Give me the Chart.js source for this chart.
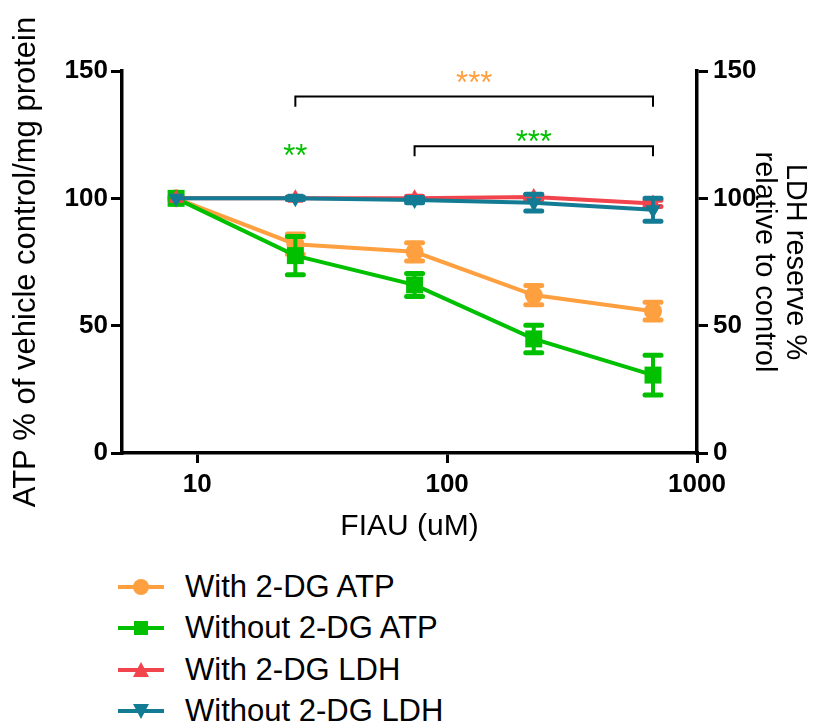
<!DOCTYPE html>
<html>
<head>
<meta charset="utf-8">
<script src="https://cdn.jsdelivr.net/npm/chart.js@4.4.1/dist/chart.umd.min.js"></script>
<style>
html,body{margin:0;padding:0;background:#fff;}
#wrap{position:relative;width:837px;height:726px;overflow:hidden;background:#fff;}
#c{position:absolute;left:0;top:0;}
#legend{position:absolute;left:116px;top:566px;font-family:"Liberation Sans",Arial,Helvetica,sans-serif;font-size:31px;color:#000;}
.row{display:flex;align-items:center;height:41.5px;white-space:nowrap;}
.row svg{width:52px;height:30px;margin-right:17px;flex:none;}
</style>
</head>
<body>
<div id="wrap">
<canvas id="c" width="837" height="560"></canvas>
<div id="legend"></div>
</div>
<script>
// ---- data ----
const concentrations = [8.23, 24.7, 74.1, 222.2, 666.7];      // FIAU (uM)
const xTickValues = [10, 100, 1000];
const yTickValues = [0, 50, 100, 150];

const seriesLabels = ['With 2-DG ATP', 'Without 2-DG ATP', 'With 2-DG LDH', 'Without 2-DG LDH'];
const withDG_ATP      = [100, 82.0, 79.0, 62.0, 55.7];
const withDG_ATP_err  = [0, 4.0, 3.6, 3.8, 3.5];
const withoutDG_ATP     = [100, 77.5, 66.0, 44.8, 30.6];
const withoutDG_ATP_err = [0, 7.5, 4.5, 5.4, 7.8];
const withDG_LDH      = [100, 100, 100, 100.5, 98.0];
const withDG_LDH_err  = [0, 0.5, 0.8, 1.0, 1.2];
const withoutDG_LDH     = [100, 100, 99.3, 98.3, 95.5];
const withoutDG_LDH_err = [0, 0.5, 1.0, 3.3, 4.5];

// significance annotations (data coordinates)
const sigTexts   = ['***', '***', '**'];
const sigColors  = ['orange', 'green', 'green'];
const sigX       = [null, null, 24.7];
const sigY       = [147.5, 124.5, 119];
const bracketFrom = [24.7, 74.1];
const bracketTo   = [666.7, 666.7];
const bracketY    = [140, 120.5];
const bracketDrop = [136, 116.5];

// ---- styling ----
const COLORS = { orange: '#FFA040', green: '#00C000', red: '#F2444C', teal: '#137B93' };
const FONT = '"Liberation Sans", Arial, Helvetica, sans-serif';

function pts(vals) { return vals.map((v, i) => ({ x: concentrations[i], y: v })); }

const datasets = [
  { label: seriesLabels[0], data: pts(withDG_ATP), errors: withDG_ATP_err, yAxisID: 'y',
    borderColor: COLORS.orange, backgroundColor: COLORS.orange, pointStyle: 'circle', pointRadius: 9, order: 4 },
  { label: seriesLabels[1], data: pts(withoutDG_ATP), errors: withoutDG_ATP_err, yAxisID: 'y',
    borderColor: COLORS.green, backgroundColor: COLORS.green, pointStyle: 'rect', pointRadius: 12, order: 3 },
  { label: seriesLabels[2], data: pts(withDG_LDH), errors: withDG_LDH_err, yAxisID: 'y2',
    borderColor: COLORS.red, backgroundColor: COLORS.red, pointStyle: 'triangle', pointRadius: 9, order: 2 },
  { label: seriesLabels[3], data: pts(withoutDG_LDH), errors: withoutDG_LDH_err, yAxisID: 'y2',
    borderColor: COLORS.teal, backgroundColor: COLORS.teal, pointStyle: 'triangle', pointRotation: 180, pointRadius: 9, order: 1 }
].map(d => Object.assign({ borderWidth: 4, pointBorderWidth: 0, tension: 0, fill: false }, d));

const errorBarPlugin = {
  id: 'errorBars',
  afterDatasetDraw(chart, args) {
    const ds = chart.data.datasets[args.index];
    if (!ds.errors) return;
    const xs = chart.scales.x, ys = chart.scales[ds.yAxisID];
    const ctx = chart.ctx;
    ctx.save();
    ctx.strokeStyle = ds.borderColor;
    ctx.lineCap = 'round';
    ds.data.forEach((p, i) => {
      const e = ds.errors[i];
      if (!e) return;
      const x = xs.getPixelForValue(p.x);
      const yTop = ys.getPixelForValue(p.y + e);
      const yBot = ys.getPixelForValue(p.y - e);
      ctx.lineWidth = 4;
      ctx.beginPath(); ctx.moveTo(x, yTop); ctx.lineTo(x, yBot); ctx.stroke();
      ctx.lineWidth = 5;
      ctx.beginPath();
      ctx.moveTo(x - 8, yTop); ctx.lineTo(x + 8, yTop);
      ctx.moveTo(x - 8, yBot); ctx.lineTo(x + 8, yBot);
      ctx.stroke();
    });
    ctx.restore();
  }
};

const sigPlugin = {
  id: 'significance',
  afterDraw(chart) {
    const ctx = chart.ctx;
    const xs = chart.scales.x, ys = chart.scales.y;
    ctx.save();
    ctx.strokeStyle = '#000';
    ctx.lineWidth = 2;
    const mids = [];
    bracketFrom.forEach((f, i) => {
      const x1 = xs.getPixelForValue(f), x2 = xs.getPixelForValue(bracketTo[i]);
      const y = ys.getPixelForValue(bracketY[i]), yd = ys.getPixelForValue(bracketDrop[i]);
      ctx.beginPath();
      ctx.moveTo(x1, yd); ctx.lineTo(x1, y); ctx.lineTo(x2, y); ctx.lineTo(x2, yd);
      ctx.stroke();
      mids.push((x1 + x2) / 2);
    });
    ctx.font = '31px ' + FONT;
    ctx.textAlign = 'center';
    ctx.textBaseline = 'alphabetic';
    sigTexts.forEach((t, i) => {
      const x = sigX[i] == null ? mids[i] : xs.getPixelForValue(sigX[i]);
      const yc = ys.getPixelForValue(sigY[i]);
      const m = ctx.measureText(t);
      const base = yc + (m.actualBoundingBoxAscent - m.actualBoundingBoxDescent) / 2;
      ctx.fillStyle = COLORS[sigColors[i]];
      ctx.fillText(t, x, base);
    });
    ctx.restore();
  }
};

const gridCommon = { drawOnChartArea: false, drawTicks: true, color: '#000', lineWidth: 3 };
const borderCommon = { display: true, color: '#000', width: 3.5 };
const tickFont = { family: FONT, size: 26, weight: 'bold' };

const chart = new Chart(document.getElementById('c'), {
  type: 'line',
  data: { datasets },
  options: {
    responsive: false,
    animation: false,
    layout: { padding: { top: 71, left: 0, right: 0, bottom: 0 } },
    plugins: { legend: { display: false }, tooltip: { enabled: false } },
    scales: {
      x: {
        type: 'logarithmic', position: 'bottom', min: 5, max: 1000,
        afterBuildTicks: s => { s.ticks = xTickValues.map(v => ({ value: v })); },
        afterFit: s => { s.height = 107; },
        ticks: { callback: v => String(v), font: tickFont, color: '#000', padding: 6, maxRotation: 0, autoSkip: false },
        grid: Object.assign({ tickLength: 10 }, gridCommon),
        border: borderCommon,
        title: { display: true, text: 'FIAU (uM)', color: '#000', font: { family: FONT, size: 30, lineHeight: 1.2 }, padding: { top: 0, bottom: 15 } }
      },
      y: {
        position: 'left', min: 0, max: 150,
        afterBuildTicks: s => { s.ticks = yTickValues.map(v => ({ value: v })); },
        afterFit: s => { s.width = 122; },
        ticks: { font: tickFont, color: '#000', padding: 3 },
        grid: Object.assign({ tickLength: 11 }, gridCommon),
        border: borderCommon,
        title: { display: true, text: 'ATP % of vehicle control/mg protein', color: '#000', font: { family: FONT, size: 31, lineHeight: 1.2 }, padding: { top: 8, bottom: 0 } }
      },
      y2: {
        position: 'right', min: 0, max: 150,
        afterBuildTicks: s => { s.ticks = yTickValues.map(v => ({ value: v })); },
        afterFit: s => { s.width = 140; },
        ticks: { font: tickFont, color: '#000', padding: 5 },
        grid: Object.assign({ tickLength: 11 }, gridCommon),
        border: borderCommon,
        title: { display: true, text: ['LDH reserve %', 'relative to control'], color: '#000', font: { family: FONT, size: 29, lineHeight: 1.07 }, padding: { top: 26, bottom: 0 } }
      }
    }
  },
  plugins: [errorBarPlugin, sigPlugin]
});

// ---- HTML legend built from the datasets ----
function markerSVG(ds) {
  const c = ds.borderColor;
  let m = '';
  if (ds.pointStyle === 'circle') m = `<circle cx="25" cy="15" r="8" fill="${c}"/>`;
  else if (ds.pointStyle === 'rect') m = `<rect x="18" y="8" width="14" height="14" fill="${c}"/>`;
  else if (ds.pointStyle === 'triangle' && ds.pointRotation === 180) m = `<polygon points="17,8 33,8 25,23" fill="${c}"/>`;
  else m = `<polygon points="17,22 33,22 25,7" fill="${c}"/>`;
  return `<svg viewBox="0 0 52 30"><line x1="2" y1="15" x2="48" y2="15" stroke="${c}" stroke-width="4"/>${m}</svg>`;
}
const leg = document.getElementById('legend');
chart.data.datasets.forEach(ds => {
  const row = document.createElement('div');
  row.className = 'row';
  row.innerHTML = markerSVG(ds);
  const span = document.createElement('span');
  span.textContent = ds.label;
  row.appendChild(span);
  leg.appendChild(row);
});
</script>
</body>
</html>
